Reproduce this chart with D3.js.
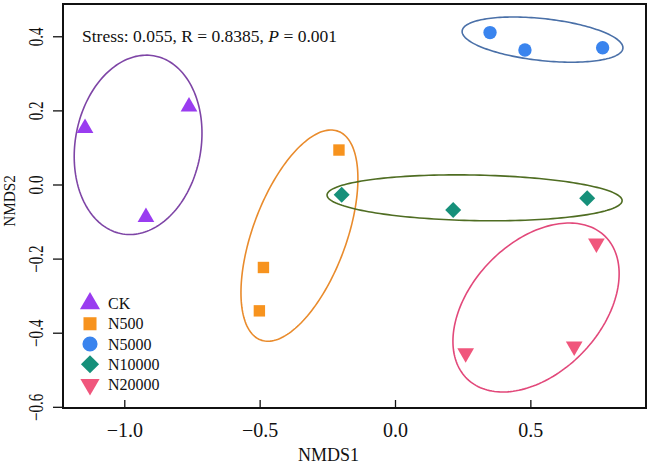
<!DOCTYPE html>
<html>
<head>
<meta charset="utf-8">
<script src="https://cdn.jsdelivr.net/npm/d3@7"></script>
<style>
body { margin: 0; background: #fff; }
</style>
</head>
<body>
<svg width="650" height="467"></svg>
<script>
let groups = ["CK", "N500", "N5000", "N10000", "N20000"]
let fills = ["#9a3cf0", "#f7931e", "#3a84ee", "#16907a", "#f0567c"]
let rings = ["#7e45a6", "#e98b2c", "#4a70a8", "#4f6d22", "#e2487a"]

// NMDS scores, three samples per group
let nmds1 = [
    [-1.145, -0.761, -0.920],
    [-0.207, -0.486, -0.501],
    [0.351, 0.480, 0.767],
    [-0.197, 0.215, 0.710],
    [0.744, 0.261, 0.662]
]
let nmds2 = [
    [0.152, 0.210, -0.088],
    [0.093, -0.224, -0.341],
    [0.410, 0.363, 0.369],
    [-0.028, -0.069, -0.037],
    [-0.159, -0.455, -0.437]
]

// ellipse: centre, half extents, correlation
let ell_cx = [-0.949, -0.353, 0.545, 0.294, 0.521]
let ell_cy = [0.107, -0.138, 0.391, -0.036, -0.332]
let ell_sx = [0.236, 0.216, 0.297, 0.545, 0.307]
let ell_sy = [0.242, 0.285, 0.061, 0.062, 0.228]
let ell_rho = [0.13, 0.54, -0.36, -0.12, 0.40]

let x_ticks = [-1.0, -0.5, 0.0, 0.5]
let y_ticks = [-0.6, -0.4, -0.2, 0.0, 0.2, 0.4]

let serif = "Tinos, 'Liberation Serif', 'Times New Roman', Times, 'Nimbus Roman', 'Noto Serif', FreeSerif, 'DejaVu Serif', serif"
let svg = d3.select("svg")
let x = d3.scaleLinear().domain([-1.2264, 0.9272]).range([63, 646])
let y = d3.scaleLinear().domain([-0.6032, 0.4871]).range([408, 4])

function shape(i, size) {
    let types = [d3.symbolTriangle, d3.symbolSquare, d3.symbolCircle, d3.symbolSquare, d3.symbolTriangle]
    return d3.symbol().type(types[i]).size(size)()
}
let rot = [0, 0, 0, 45, 180]

// ellipses
let line = d3.line().curve(d3.curveLinearClosed)
groups.forEach(function(g, i) {
    let pts = d3.range(0, 2 * Math.PI, Math.PI / 90).map(function(t) {
        let dx = ell_sx[i] * Math.cos(t)
        let dy = ell_sy[i] * (ell_rho[i] * Math.cos(t) + Math.sqrt(1 - ell_rho[i] * ell_rho[i]) * Math.sin(t))
        return [x(ell_cx[i] + dx), y(ell_cy[i] + dy)]
    })
    svg.append("path")
        .attr("d", line(pts))
        .attr("fill", "none")
        .attr("stroke", rings[i])
        .attr("stroke-width", 1.6)
})

// points
let sizes = [121, 130, 140, 128, 121]
let points = []
groups.forEach(function(g, i) {
    nmds1[i].forEach(function(v, j) {
        points.push({g: i, x: v, y: nmds2[i][j]})
    })
})
svg.append("g").selectAll("path")
    .data(points)
    .join("path")
    .attr("d", d => shape(d.g, sizes[d.g]))
    .attr("transform", d => "translate(" + x(d.x) + "," + y(d.y) + ") rotate(" + rot[d.g] + ")")
    .attr("fill", d => fills[d.g])

// axes
let xa = svg.append("g")
    .attr("transform", "translate(0,408)")
    .call(d3.axisBottom(x).tickValues(x_ticks).tickSize(-8).tickPadding(15).tickFormat(d3.format(".1f")))
xa.select(".domain").remove()
xa.selectAll("line").attr("stroke", "#111").attr("stroke-width", 1.3)
xa.selectAll("text").style("font-size", "20px")

let ya = svg.append("g")
    .attr("transform", "translate(63,0)")
    .call(d3.axisLeft(y).tickValues(y_ticks).tickSize(10).tickFormat(d3.format(".1f")))
ya.select(".domain").remove()
ya.selectAll("line").attr("stroke", "#111").attr("stroke-width", 1.3)
ya.selectAll("text")
    .style("font-size", "21px")
    .attr("x", 0)
    .attr("dy", 0)
    .attr("text-anchor", "middle")
    .attr("transform", "translate(-20,0) rotate(-90) scale(0.72,1)")

// box
svg.append("rect")
    .attr("x", 63).attr("y", 4)
    .attr("width", 583).attr("height", 404)
    .attr("fill", "none")
    .attr("stroke", "#111")
    .attr("stroke-width", 2)

svg.append("text")
    .attr("x", 328.5).attr("y", 461)
    .attr("text-anchor", "middle")
    .style("font-size", "18px")
    .text("NMDS1")
svg.append("text")
    .attr("transform", "translate(15,201) rotate(-90) scale(0.87,1)")
    .attr("text-anchor", "middle")
    .style("font-size", "17.5px")
    .text("NMDS2")

let stat = svg.append("text")
    .attr("x", 82).attr("y", 42)
    .style("font-size", "17.5px")
stat.append("tspan").text("Stress: 0.055, R = 0.8385, ")
stat.append("tspan").style("font-style", "italic").text("P")
stat.append("tspan").text(" = 0.001")

// legend
let leg = svg.append("g").selectAll("g")
    .data(groups)
    .join("g")
    .attr("transform", (d, i) => "translate(90," + (303.5 + i * 20.25) + ")")
leg.append("path")
    .attr("d", (d, i) => shape(i, [175, 170, 180, 165, 160][i]))
    .attr("transform", (d, i) => "rotate(" + rot[i] + ")")
    .attr("fill", (d, i) => fills[i])
leg.append("text")
    .attr("x", 18)
    .attr("dy", "0.35em")
    .style("font-size", "16px")
    .text(d => d)

svg.selectAll("text").style("font-family", serif).attr("fill", "#111")
</script>
</body>
</html>
